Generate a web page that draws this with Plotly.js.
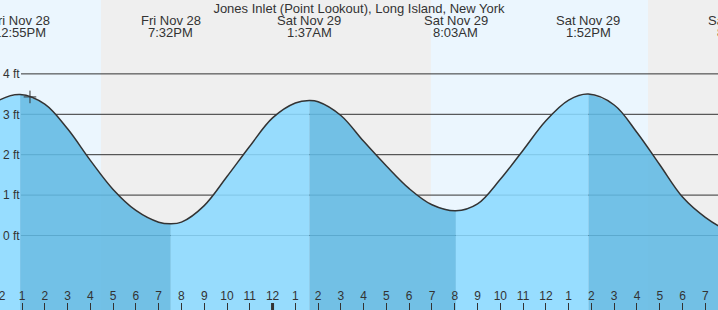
<!DOCTYPE html>
<html>
<head>
<meta charset="utf-8">
<script src="https://cdn.plot.ly/plotly-3.0.1.min.js"></script>
<style>
  html, body { margin: 0; padding: 0; background: #efefef; }
  #chart { width: 718px; height: 310px; }
</style>
</head>
<body>
<div id="chart"></div>
<script>
// ---------- DATA ----------
const chartTitle = 'Jones Inlet (Point Lookout), Long Island, New York';

// hourly readings of the tide curve (ft)
const readTimes = [
  '2025-11-28 11:00', '2025-11-28 12:00', '2025-11-28 14:00', '2025-11-28 15:00',
  '2025-11-28 16:00', '2025-11-28 17:00', '2025-11-28 18:00', '2025-11-28 19:00',
  '2025-11-28 20:00', '2025-11-28 21:00', '2025-11-28 22:00', '2025-11-28 23:00',
  '2025-11-29 00:00', '2025-11-29 01:00', '2025-11-29 02:00', '2025-11-29 03:00',
  '2025-11-29 04:00', '2025-11-29 05:00', '2025-11-29 06:00', '2025-11-29 07:00',
  '2025-11-29 09:00', '2025-11-29 10:00', '2025-11-29 11:00', '2025-11-29 12:00',
  '2025-11-29 13:00', '2025-11-29 15:00', '2025-11-29 16:00', '2025-11-29 17:00',
  '2025-11-29 18:00', '2025-11-29 19:00', '2025-11-29 20:00', '2025-11-29 21:00'
];
const readHeights = [
  2.92, 3.35, 3.25, 2.64,
  1.86, 1.14, 0.62, 0.33,
  0.33, 0.74, 1.46, 2.21,
  2.91, 3.28, 3.31, 2.97,
  2.33, 1.72, 1.16, 0.76,
  0.78, 1.39, 2.11, 2.84,
  3.35, 3.23, 2.55, 1.75,
  0.95, 0.45, 0.12, 0.09
];

// high / low tides
const extremeTimes   = ['2025-11-28 12:55', '2025-11-28 19:32', '2025-11-29 01:37',
                        '2025-11-29 08:03', '2025-11-29 13:52', '2025-11-29 20:31'];
const extremeHeights = [3.49, 0.29, 3.34, 0.61, 3.50, 0.06];
const extremeTypes   = ['H', 'L', 'H', 'L', 'H', 'L'];
const extremeDates   = ['Fri Nov 28', 'Fri Nov 28', 'Sat Nov 29', 'Sat Nov 29', 'Sat Nov 29', 'Sat Nov 29'];
const extremeClock   = ['12:55PM', '7:32PM', '1:37AM', '8:03AM', '1:52PM', '8:31PM'];

// sunrise / sunset
const sunrises = ['2025-11-28 06:56', '2025-11-29 06:57'];
const sunsets  = ['2025-11-28 16:28', '2025-11-29 16:29'];

// current-time marker
const nowTime = ['2025-11-28 13:21'];
const nowHeight = [3.43];

// axis ticks
const heightTicks = [0, 1, 2, 3, 4];
const heightTickText = ['0 ft', '1 ft', '2 ft', '3 ft', '4 ft'];
const midnightTick = '2025-11-29 00:00';
const edgeHourTimes = ['2025-11-28 12:00'];   // hour label cut by the left edge
const edgeHourText = ['12'];

// ---------- BUILD ----------
const FONT = 'Liberation Sans, Arial, sans-serif';
const INK = '#333333';
const DAY = '#ebf6fe';
const NIGHT = '#efefef';
const FALLING = 'rgba(97,186,228,0.88)';
const RISING = 'rgba(139,217,255,0.88)';

const W = 718, H = 310;
const xRange = ['2025-11-28 12:02:02', '2025-11-29 19:33:25'];
const yRange = [-1.844, 5.829];
const BASE = -5;
const ms = s => Date.parse(s.replace(' ', 'T'));
// linear date scale -> paper fraction (same mapping as the date axis)
const xFrac = t => (ms(t) - ms(xRange[0])) / (ms(xRange[1]) - ms(xRange[0]));

// merge readings with extremes
const pts = readTimes.map((t, i) => ({t, h: readHeights[i], ext: -1}))
  .concat(extremeTimes.map((t, i) => ({t, h: extremeHeights[i], ext: i})))
  .sort((a, b) => a.t < b.t ? -1 : a.t > b.t ? 1 : 0);

const traces = [];
const cuts = [];
pts.forEach((p, i) => { if (p.ext >= 0) cuts.push(i); });
const bounds = [0].concat(cuts).concat([pts.length - 1]);
for (let s = 0; s < bounds.length - 1; s++) {
  const a = bounds[s], b = bounds[s + 1];
  if (b <= a) continue;
  const seg = pts.slice(a, b + 1);
  const startExt = pts[a].ext;
  const color = startExt >= 0 ? (extremeTypes[startExt] === 'H' ? FALLING : RISING)
                              : (extremeTypes[pts[b].ext] === 'H' ? RISING : FALLING);
  traces.push({
    x: [seg[0].t, seg[seg.length - 1].t], y: [BASE, BASE],
    type: 'scatter', mode: 'lines', line: {width: 0, color: 'rgba(0,0,0,0)'},
    hoverinfo: 'skip', showlegend: false
  });
  traces.push({
    x: seg.map(p => p.t), y: seg.map(p => p.h),
    type: 'scatter', mode: 'lines', fill: 'tonexty', fillcolor: color,
    line: {width: 0, shape: 'spline', color: 'rgba(0,0,0,0)'},
    hoverinfo: 'skip', showlegend: false
  });
}
// outline
traces.push({
  x: pts.map(p => p.t), y: pts.map(p => p.h),
  type: 'scatter', mode: 'lines',
  line: {width: 1.5, shape: 'spline', color: INK},
  hoverinfo: 'skip', showlegend: false
});
// now marker
traces.push({
  x: nowTime, y: nowHeight, type: 'scatter', mode: 'markers',
  marker: {symbol: 'cross-thin', size: 9, line: {width: 1, color: INK}, color: INK},
  hoverinfo: 'skip', showlegend: false
});

// labels of the tide extremes (and the hour label cut by the left edge)
const annotations = [];
extremeTimes.forEach((t, i) => {
  annotations.push({xref: 'paper', yref: 'paper', x: xFrac(t), y: 1 - 20.3 / H,
    xanchor: 'center', yanchor: 'middle', showarrow: false, text: extremeDates[i],
    font: {family: FONT, size: 13, color: INK}});
  annotations.push({xref: 'paper', yref: 'paper', x: xFrac(t), y: 1 - 32.3 / H,
    xanchor: 'center', yanchor: 'middle', showarrow: false, text: extremeClock[i],
    font: {family: FONT, size: 13, color: INK}});
});
edgeHourTimes.forEach((t, i) => {
  annotations.push({xref: 'paper', yref: 'paper', x: xFrac(t), y: 1 - 296 / H,
    xanchor: 'center', yanchor: 'middle', showarrow: false, text: edgeHourText[i],
    font: {family: FONT, size: 12, color: INK}});
});

const shapes = [];
sunrises.forEach((sr, i) => {
  shapes.push({type: 'rect', xref: 'x', yref: 'paper', x0: sr, x1: sunsets[i], y0: 0, y1: 1,
    fillcolor: DAY, line: {width: 0}, layer: 'below'});
});
heightTicks.forEach(v => {
  shapes.push({type: 'line', xref: 'paper', yref: 'y', x0: 21 / W, x1: 1, y0: v, y1: v,
    line: {color: INK, width: 1}, layer: 'below'});
});
shapes.push({type: 'line', xref: 'x', yref: 'paper', x0: midnightTick, x1: midnightTick,
  y0: 0, y1: 7 / H, line: {color: INK, width: 3}, layer: 'above'});

const layout = {
  width: W, height: H,
  margin: {l: 0, r: 0, t: 0, b: 0, pad: 0},
  paper_bgcolor: NIGHT, plot_bgcolor: NIGHT,
  showlegend: false,
  font: {family: FONT, color: INK},
  title: {text: chartTitle, font: {family: FONT, size: 13, color: INK},
          x: 0.5, xref: 'paper', xanchor: 'center', y: 1 - 8 / H, yref: 'container', yanchor: 'middle'},
  xaxis: {
    type: 'date', range: xRange, tick0: '2025-11-28 00:00', dtick: 3600000,
    tickformat: '%-I', ticks: 'inside', ticklen: 7, tickwidth: 1, tickcolor: INK,
    ticklabelposition: 'inside', ticklabeloverflow: 'allow',
    tickfont: {family: FONT, size: 12, color: INK},
    showgrid: false, zeroline: false, showline: false, fixedrange: true
  },
  yaxis: {
    range: yRange, tickvals: heightTicks, ticktext: heightTickText,
    ticks: '', ticklabelposition: 'inside', ticklabeloverflow: 'allow',
    tickfont: {family: FONT, size: 12, color: INK},
    showgrid: false, zeroline: false, showline: false, fixedrange: true
  },
  annotations: annotations,
  shapes: shapes
};

Plotly.newPlot('chart', traces, layout, {displayModeBar: false, staticPlot: true});
</script>
</body>
</html>
